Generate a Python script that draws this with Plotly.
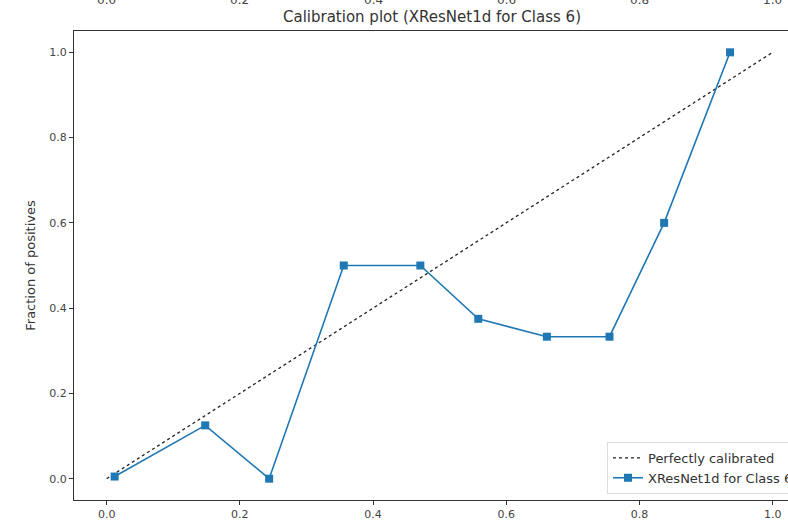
import plotly.graph_objects as go

mean_predicted = [0.012, 0.148, 0.244, 0.356, 0.471, 0.558, 0.661, 0.755, 0.837, 0.936]
fraction_pos = [0.005, 0.125, 0.0, 0.5, 0.5, 0.375, 0.333, 0.333, 0.6, 1.0]
diag_x = [0.0, 1.0]
diag_y = [0.0, 1.0]
tick_vals = [0.0, 0.2, 0.4, 0.6, 0.8, 1.0]
tick_text = ["0.0", "0.2", "0.4", "0.6", "0.8", "1.0"]
title_text = "Calibration plot (XResNet1d for Class 6)"

fig = go.Figure()
fig.add_trace(go.Scatter(x=diag_x, y=diag_y, mode="lines", name="Perfectly calibrated",
                         line=dict(color="#222222", width=1.3, dash="dot")))
fig.add_trace(go.Scatter(x=mean_predicted, y=fraction_pos, mode="lines+markers",
                         name="XResNet1d for Class 6",
                         line=dict(color="#1f77b4", width=1.6),
                         marker=dict(symbol="square", size=8, color="#1f77b4")))

# partial tick labels of the subplot above (cut off at the top edge)
for v, t in zip(tick_vals, tick_text):
    fig.add_annotation(x=v, y=1.0, xref="x", yref="paper", yshift=30.5 + 1,
                       text=t, showarrow=False, yanchor="middle",
                       font=dict(family="DejaVu Sans", size=12, color="#444444"))

axis_common = dict(showgrid=False, zeroline=False, ticks="outside", ticklen=4,
                   tickwidth=1, tickcolor="#333333", linecolor="#333333", linewidth=1,
                   showline=True, tickfont=dict(family="DejaVu Sans", size=11, color="#444444"),
                   tickvals=tick_vals, ticktext=tick_text)

fig.update_layout(
    width=788, height=523,
    margin=dict(l=74, r=0, t=30.5, b=23, autoexpand=False),
    paper_bgcolor="white", plot_bgcolor="white",
    title=dict(text=title_text, x=432 / 788, xanchor="center", y=1 - 17 / 523, yanchor="middle",
               font=dict(family="DejaVu Sans", size=15, color="#333333")),
    xaxis=dict(range=[-0.049, 1.023], mirror=True, automargin=False, **axis_common),
    yaxis=dict(range=[-0.05, 1.05], automargin=False,
               title=dict(text="Fraction of positives", standoff=10,
                          font=dict(family="DejaVu Sans", size=13, color="#333333")),
               **axis_common),
    legend=dict(x=(607 - 74) / 714, y=0.013, xanchor="left", yanchor="bottom",
                bgcolor="rgba(255,255,255,0.8)", bordercolor="#dddddd", borderwidth=1,
                font=dict(family="DejaVu Sans", size=13, color="#333333"),
                tracegroupgap=0, itemwidth=30),
    showlegend=True,
)

fig.write_html("out.html")
